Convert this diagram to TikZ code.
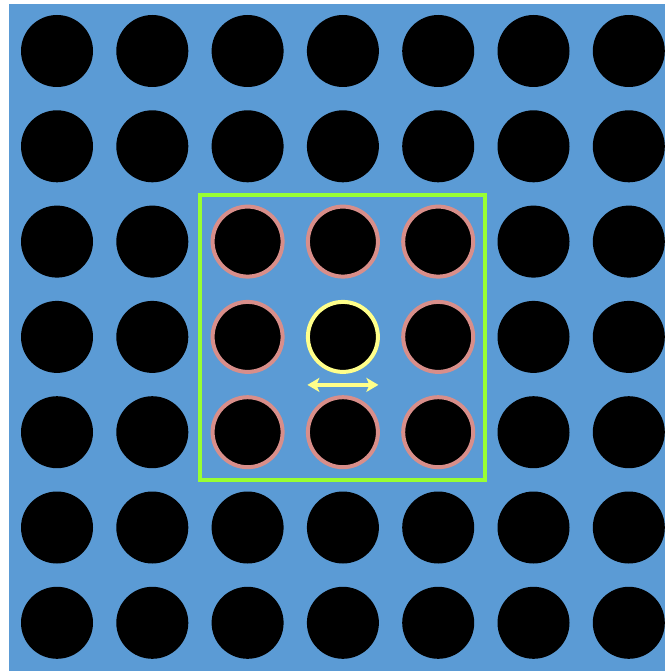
\documentclass[tikz,border=0pt]{standalone}
\usepackage{tikz}
\usetikzlibrary{arrows.meta, calc}
\definecolor{gridblue}{HTML}{5B9BD5}
\definecolor{boxgreen}{HTML}{99FF33}
\definecolor{ringpink}{HTML}{D88E8A}
\definecolor{ringyellow}{HTML}{FFFF8A}
\tikzset{
    hole/.style={circle, fill=black, minimum size=72pt, inner sep=0pt},
    neighbour/.style={hole, draw=ringpink, line width=4pt, minimum size=70pt},
    centre/.style={hole, draw=ringyellow, line width=4pt, minimum size=70pt},
    window/.style={rectangle, draw=boxgreen, line width=4pt, minimum width=285pt,
                   minimum height=285pt, inner sep=0pt},
    pitch/.style={{Stealth[length=12pt, width=14pt, inset=3pt]}-{Stealth[length=12pt, width=14pt, inset=3pt]},
                  draw=ringyellow, line width=3.5pt},
}

\begin{document}
\begin{tikzpicture}[x=1pt, y=-1pt]

    % Canvas
    \useasboundingbox (0,0) rectangle (665,671);
    \fill[white] (0,0) rectangle (665,671);
    \fill[gridblue] (9,4) rectangle (665,671);

    % 7 x 7 grid of holes
    \foreach \i in {0,...,6}
        \foreach \j in {0,...,6}
            \node[hole] (c-\i-\j) at (57+95.3*\i, 51+95.3*\j) {};

    % Neighbourhood window
    \node[window] (win) at ($(c-3-3)+(0,0.4)$) {};

    % Ringed neighbours and centre
    \foreach \i/\j in {2/2,3/2,4/2,2/3,4/3,2/4,3/4,4/4}
        \node[neighbour] at (c-\i-\j) {};
    \node[centre] (mid) at (c-3-3) {};

    % Spacing arrow
    \coordinate (pl) at ($(mid)+(-35.5,48)$);
    \coordinate (pr) at ($(mid)+(35.5,48)$);
    \draw[pitch] (pl) -- (pr);

\end{tikzpicture}
\end{document}
